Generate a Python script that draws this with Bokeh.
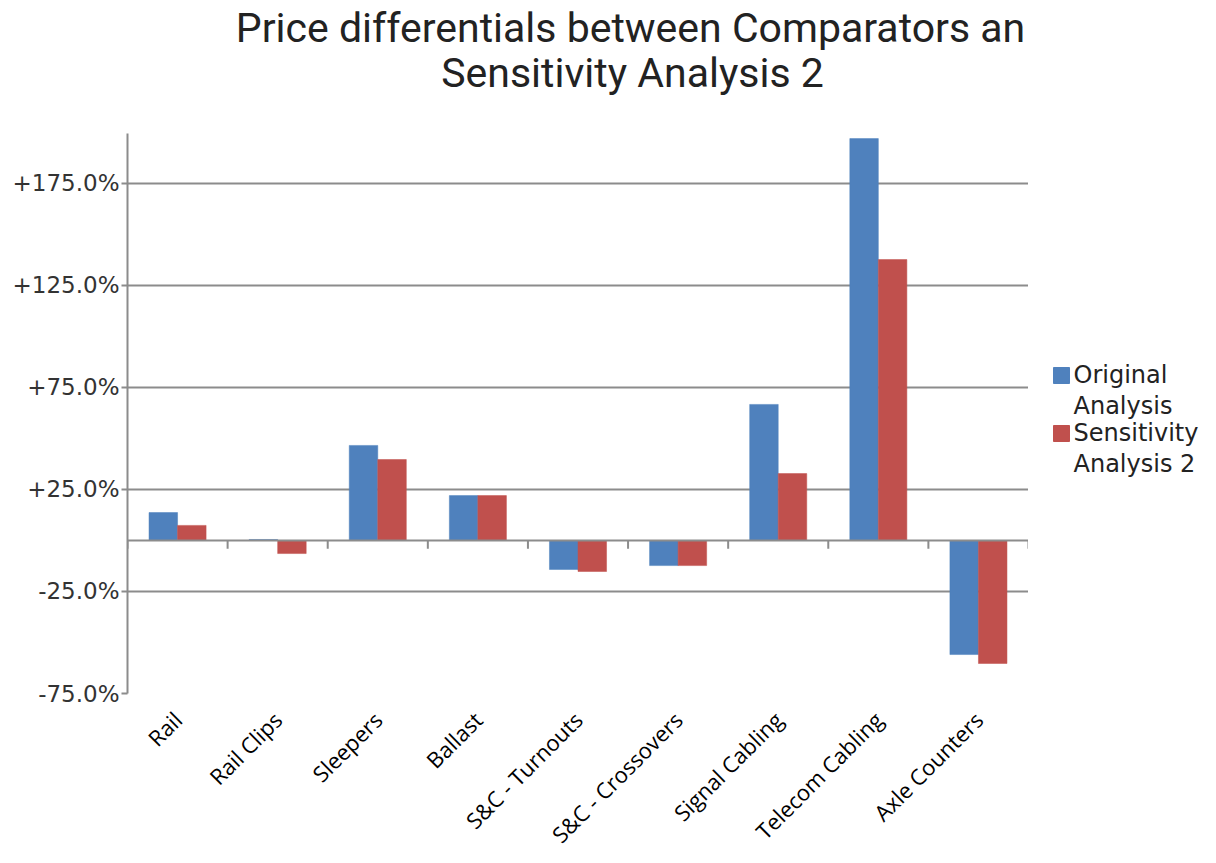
import math
from bokeh.plotting import figure
from bokeh.layouts import column, row
from bokeh.models import ColumnDataSource, FixedTicker, Span
from bokeh.core.properties import value
from bokeh.embed import file_html
from bokeh.resources import INLINE

categories = ["Rail", "Rail Clips", "Sleepers", "Ballast", "S&C - Turnouts",
              "S&C - Crossovers", "Signal Cabling", "Telecom Cabling", "Axle Counters"]
original = [13.7, 0.5, 46.6, 22.0, -14.2, -12.3, 66.7, 197.0, -55.9]
sensitivity = [7.4, -6.4, 39.7, 22.0, -15.2, -12.3, 32.8, 137.7, -60.3]
y_ticks = [-75, -25, 25, 75, 125, 175]
series_names = [["Original", "Analysis"], ["Sensitivity", "Analysis 2"]]
colors = ["#4F81BD", "#C0504D"]
title_lines = ["Price differentials between Comparators an", "Sensitivity Analysis 2"]

n = len(categories)
centers = [i + 0.5 for i in range(n)]
bw = 0.285
GRID = "#8c8c8c"

# ---------------- title strip ----------------
tf = figure(width=1216, height=133, output_backend="svg", toolbar_location=None,
            x_range=(0, 1216), y_range=(133, 0), x_axis_location=None, y_axis_location=None,
            min_border=0)
tf.outline_line_color = None
tf.grid.visible = False
tf.text(x=[630, 632], y=[27, 72], text=title_lines, text_align="center",
        text_baseline="middle", text_font=value("Roboto"), text_font_size="41px",
        text_color="#222222")

# ---------------- main chart ----------------
p = figure(width=1028, height=730, output_backend="svg", toolbar_location=None,
           x_range=(0, n), y_range=(-75, 199.5),
           min_border_left=127, min_border_right=0, min_border_top=0, min_border_bottom=170)
p.outline_line_color = None

src_o = ColumnDataSource(dict(x=[c - bw / 2 for c in centers], top=original))
src_s = ColumnDataSource(dict(x=[c + bw / 2 for c in centers], top=sensitivity))
p.vbar(x="x", top="top", bottom=0, width=bw, source=src_o,
       fill_color=colors[0], line_color=colors[0], line_width=0.5)
p.vbar(x="x", top="top", bottom=0, width=bw, source=src_s,
       fill_color=colors[1], line_color=colors[1], line_width=0.5)

yax = p.yaxis[0]
yax.ticker = FixedTicker(ticks=y_ticks)
yax.major_label_overrides = {t: ("+" if t > 0 else "") + f"{t:.1f}%" for t in y_ticks}
yax.axis_line_color = GRID
yax.axis_line_width = 2
yax.major_tick_line_color = GRID
yax.major_tick_line_width = 2
yax.major_tick_out = 6
yax.major_tick_in = 0
yax.minor_tick_line_color = None
yax.major_label_text_font = "DejaVu Sans"
yax.major_label_text_font_size = "23px"
yax.major_label_text_color = "#333333"
yax.major_label_standoff = 2

p.ygrid.ticker = FixedTicker(ticks=y_ticks)
p.ygrid.grid_line_color = GRID
p.ygrid.grid_line_width = 2
p.xgrid.grid_line_color = None

xax = p.xaxis[0]
xax.ticker = FixedTicker(ticks=centers)
xax.major_label_overrides = {c: lab for c, lab in zip(centers, categories)}
xax.axis_line_color = None
xax.major_tick_line_color = None
xax.minor_tick_line_color = None
xax.major_label_orientation = math.pi / 4
xax.major_label_text_font = "Open Sans"
xax.major_label_text_font_size = "22px"
xax.major_label_text_color = "black"
xax.major_label_standoff = 16

p.add_layout(Span(location=0, dimension="width", line_color=GRID, line_width=2))
bounds = list(range(n + 1))
p.segment(x0=bounds, x1=bounds, y0=[0] * len(bounds), y1=[-4] * len(bounds),
          line_color=GRID, line_width=2)

# ---------------- legend strip (frame aligned with main frame: 560 px tall) ----------------
lf = figure(width=188, height=730, output_backend="svg", toolbar_location=None,
            x_range=(0, 188), y_range=(560, 0), x_axis_location=None, y_axis_location=None,
            min_border_left=0, min_border_right=0, min_border_top=0, min_border_bottom=170)
lf.outline_line_color = None
lf.grid.visible = False
sq_y = [242, 300]
lf.scatter(x=[33, 33], y=sq_y, marker="square", size=16, fill_color=colors,
           line_color=colors)
for (l1, l2), yy in zip(series_names, sq_y):
    lf.text(x=[45, 45], y=[yy - 1, yy + 30], text=[l1, l2], text_align="left",
            text_baseline="middle", text_font=value("DejaVu Sans"), text_font_size="24px",
            text_color="#222222")

layout = column(tf, row(p, lf, spacing=0), spacing=0)
open("out.html", "w").write(file_html(layout, INLINE))
